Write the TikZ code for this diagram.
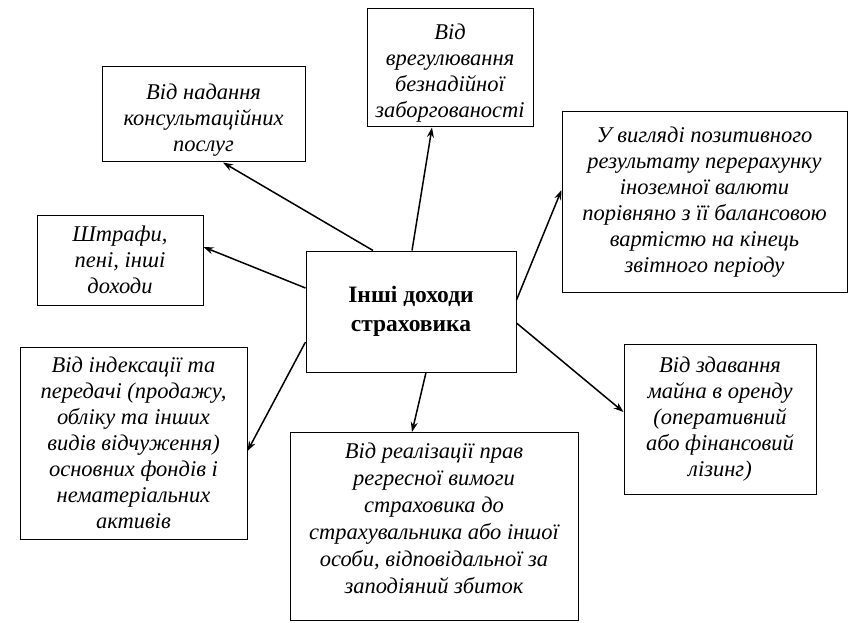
\documentclass[tikz,border=0pt]{standalone}
\usepackage{fontspec}
\setmainfont{Liberation Serif}
\usetikzlibrary{arrows.meta}

% extra room above the first line / below the last line of a box
\newcommand\padtop[1]{\rule{0pt}{#1}}
\newcommand\padbot[1]{\rule[-#1]{0pt}{#1}}

\begin{document}
\begin{tikzpicture}[x=1pt, y=-1pt,
  box/.style={draw, line width=1pt, align=center, inner sep=1pt,
    font=\fontsize{22.5}{26}\selectfont\itshape},
  arr/.style={-{Stealth[length=10pt,width=7pt]}, line width=1.5pt}]

\useasboundingbox (0,0) rectangle (854,623);

% Centre
\node[draw, line width=1pt, align=center, minimum width=210pt, minimum height=121pt,
  font=\fontsize{23.5}{29}\selectfont\bfseries] (inshi) at (411,311.5)
  {Інші доходи\\страховика};

% Boxes
\node[box, minimum width=203pt, minimum height=95pt] (konsult) at (203.5,114.5)
  {\padtop{27pt}Від надання\\консультаційних\\послуг};
\node[box, minimum width=166pt, minimum height=118pt] (vrehul) at (450,68)
  {\padtop{26pt}Від\\врегулювання\\безнадійної\\заборгованості};
\node[box, minimum width=285pt, minimum height=180pt] (valuta) at (704.5,202)
  {У вигляді позитивного\\результату перерахунку\\іноземної валюти\\порівняно з її балансовою\\вартістю на кінець\\звітного періоду};
\node[box, minimum width=166pt, minimum height=90pt] (shtrafy) at (120,260)
  {Штрафи,\\пені, інші\\доходи};
\node[box, minimum width=227pt, minimum height=192pt] (indeks) at (133.5,443)
  {Від індексації та\\передачі (продажу,\\обліку та інших\\видів відчуження)\\основних фондів і\\нематеріальних\\активів};
\node[box, minimum width=288pt, minimum height=188pt,
  font=\fontsize{22.5}{27}\selectfont\itshape] (rehres) at (434,526.5)
  {Від реалізації прав\\регресної вимоги\\страховика до\\страхувальника або іншої\\особи, відповідальної за\\заподіяний збиток\padbot{17pt}};
\node[box, minimum width=192pt, minimum height=150pt] (orenda) at (720,419)
  {Від здавання\\майна в оренду\\(оперативний\\або фінансовий\\лізинг)};

% Arrows
\draw[arr] ([xshift=-38pt]inshi.north) -- ([xshift=19.5pt]konsult.south);
\draw[arr] ([xshift=1pt]inshi.north) -- ([xshift=-18pt]vrehul.south);
\draw[arr] ([yshift=11.5pt]inshi.east) -- ([yshift=12pt]valuta.west);
\draw[arr] ([yshift=23.5pt]inshi.west) -- ([yshift=13pt]shtrafy.east);
\draw[arr] ([yshift=-30.5pt]inshi.west) -- ([yshift=-8pt]indeks.east);
\draw[arr] ([xshift=15pt]inshi.south) -- ([xshift=-22pt]rehres.north);
\draw[arr] ([yshift=-11.5pt]inshi.east) -- ([yshift=7pt]orenda.west);

\end{tikzpicture}
\end{document}
